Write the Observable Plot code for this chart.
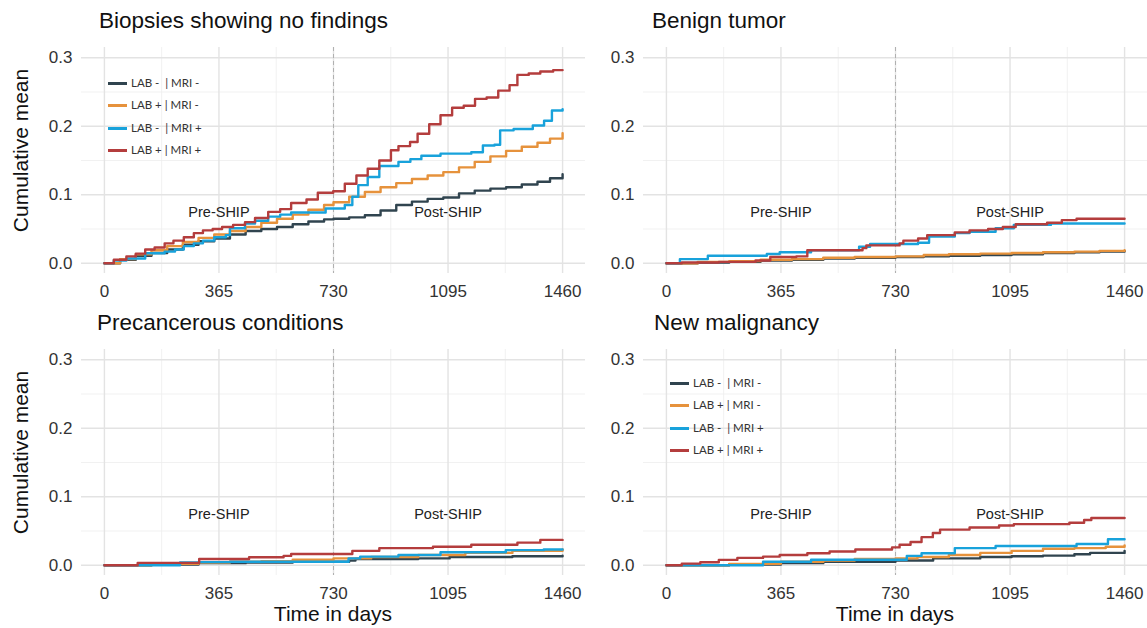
<!DOCTYPE html>
<html><head><meta charset="utf-8">
<script src="https://cdn.jsdelivr.net/npm/d3@7"></script>
<script src="https://cdn.jsdelivr.net/npm/@observablehq/plot@0.6"></script>
<style>
body{margin:0;background:#fff;}
#chart{position:relative;width:1147px;height:628px;overflow:hidden;background:#fff;font-family:"Liberation Sans",Arial,sans-serif;}
#chart svg{position:absolute;}
.t{position:absolute;white-space:nowrap;line-height:1;color:#111;}
.title{font-size:22.5px;}
.ytitle{font-size:21px;width:200px;text-align:center;transform:rotate(-90deg);}
.xtitle{font-size:21px;width:200px;text-align:center;}
.leg{position:absolute;font-family:Lato,"Open Sans",sans-serif;font-size:11.5px;color:#333;white-space:pre;line-height:1;}
.sw{position:absolute;width:19px;height:3px;}
</style></head>
<body><div id="chart"></div>
<script>
// ---- categories / labels ----
const panelTitles = ["Biopsies showing no findings", "Benign tumor", "Precancerous conditions", "New malignancy"];
const seriesLabels = ["LAB -  | MRI -", "LAB + | MRI -", "LAB -  | MRI +", "LAB + | MRI +"];
const seriesColors = ["#30444f", "#e6923c", "#18a2db", "#b43d3d"];
const xTicks = [0, 365, 730, 1095, 1460];
const xMinor = [182.5, 547.5, 912.5, 1277.5];
const yTicks = [0, 0.1, 0.2, 0.3];
const yMinor = [0.05, 0.15, 0.25];
const phaseLabels = [{day: 365, value: 0.075, text: "Pre-SHIP"}, {day: 1095, value: 0.075, text: "Post-SHIP"}];

// ---- Biopsies showing no findings: [day, cumulative mean] ----
const noFind_labNeg_mriNeg = [[0,0],[50,0.005],[100,0.011],[150,0.015],[200,0.020],[250,0.027],[300,0.032],[350,0.036],[400,0.042],[450,0.047],[500,0.050],[550,0.053],[600,0.057],[650,0.061],[700,0.064],[730,0.065],[780,0.067],[830,0.070],[880,0.077],[930,0.085],[980,0.090],[1030,0.094],[1080,0.096],[1130,0.102],[1180,0.106],[1230,0.109],[1280,0.111],[1330,0.115],[1380,0.119],[1420,0.124],[1460,0.130]];
const noFind_labPos_mriNeg = [[0,0],[50,0.006],[100,0.013],[150,0.019],[200,0.025],[250,0.031],[300,0.037],[350,0.042],[400,0.047],[450,0.053],[500,0.059],[550,0.065],[600,0.071],[650,0.078],[700,0.085],[730,0.089],[780,0.097],[830,0.104],[880,0.111],[930,0.117],[980,0.123],[1030,0.128],[1080,0.133],[1130,0.140],[1180,0.148],[1230,0.156],[1280,0.164],[1330,0.170],[1380,0.176],[1420,0.182],[1460,0.190]];
const noFind_labNeg_mriPos = [[0,0],[30,0.004],[70,0.007],[130,0.0145],[192,0.017],[225,0.020],[253,0.025],[285,0.029],[314,0.033],[350,0.038],[387,0.041],[400,0.051],[448,0.058],[480,0.062],[522,0.068],[560,0.071],[595,0.074],[680,0.074],[705,0.080],[766,0.085],[790,0.097],[809,0.114],[839,0.126],[876,0.142],[937,0.148],[975,0.152],[1010,0.157],[1071,0.160],[1169,0.162],[1206,0.172],[1243,0.173],[1261,0.194],[1304,0.196],[1365,0.201],[1401,0.208],[1426,0.223],[1460,0.225]];
const noFind_labPos_mriPos = [[0,0],[30,0.005],[70,0.010],[100,0.014],[130,0.020],[160,0.023],[192,0.029],[220,0.033],[253,0.038],[285,0.044],[314,0.048],[345,0.050],[375,0.053],[410,0.056],[448,0.060],[480,0.066],[522,0.075],[560,0.079],[595,0.088],[644,0.093],[680,0.103],[729,0.105],[766,0.116],[803,0.128],[839,0.138],[876,0.150],[913,0.165],[937,0.171],[974,0.177],[998,0.189],[1035,0.203],[1071,0.216],[1108,0.227],[1145,0.230],[1181,0.240],[1218,0.242],[1255,0.252],[1291,0.260],[1316,0.275],[1352,0.277],[1389,0.280],[1430,0.282],[1460,0.282]];

// ---- Benign tumor ----
const benign_labNeg_mriNeg = [[0,0],[100,0.001],[200,0.002],[300,0.004],[400,0.005],[500,0.007],[600,0.008],[730,0.009],[820,0.010],[900,0.011],[1000,0.012],[1100,0.013],[1200,0.015],[1300,0.016],[1380,0.017],[1460,0.018]];
const benign_labPos_mriNeg = [[0,0],[100,0.002],[200,0.003],[300,0.005],[400,0.006],[500,0.008],[600,0.009],[730,0.010],[820,0.012],[900,0.013],[1000,0.014],[1100,0.015],[1200,0.016],[1300,0.017],[1380,0.018],[1460,0.019]];
const benign_labNeg_mriPos = [[0,0],[43,0.006],[132,0.011],[320,0.0135],[361,0.016],[461,0.019],[614,0.024],[649,0.028],[802,0.030],[837,0.039],[919,0.044],[966,0.046],[1049,0.051],[1107,0.056],[1225,0.058],[1460,0.058]];
const benign_labPos_mriPos = [[0,0],[49,0.001],[167,0.002],[284,0.004],[331,0.009],[414,0.010],[449,0.019],[625,0.022],[637,0.026],[743,0.029],[755,0.033],[802,0.036],[831,0.041],[919,0.045],[966,0.048],[1025,0.050],[1072,0.053],[1113,0.057],[1213,0.059],[1260,0.063],[1307,0.065],[1460,0.065]];

// ---- Precancerous conditions ----
const precan_labNeg_mriNeg = [[0,0],[150,0.001],[300,0.003],[450,0.004],[600,0.005],[780,0.007],[800,0.009],[1000,0.010],[1100,0.012],[1300,0.013],[1460,0.014]];
const precan_labPos_mriNeg = [[0,0],[150,0.002],[300,0.004],[400,0.005],[500,0.006],[600,0.008],[730,0.010],[850,0.012],[1000,0.015],[1150,0.018],[1300,0.021],[1460,0.023]];
const precan_labNeg_mriPos = [[0,0],[241,0.004],[302,0.0045],[400,0.005],[778,0.010],[815,0.0126],[937,0.015],[1071,0.019],[1279,0.022],[1400,0.023],[1460,0.023]];
const precan_labPos_mriPos = [[0,0],[106,0.0034],[302,0.009],[461,0.0117],[571,0.0136],[595,0.0165],[790,0.021],[876,0.025],[1047,0.027],[1169,0.030],[1316,0.033],[1389,0.037],[1460,0.037]];

// ---- New malignancy ----
const newMal_labNeg_mriNeg = [[0,0],[200,0.001],[365,0.003],[500,0.005],[730,0.007],[850,0.010],[1000,0.012],[1100,0.013],[1200,0.014],[1300,0.016],[1350,0.018],[1460,0.021]];
const newMal_labPos_mriNeg = [[0,0],[200,0.002],[365,0.005],[500,0.007],[600,0.009],[730,0.010],[800,0.012],[900,0.015],[1000,0.018],[1100,0.021],[1200,0.024],[1300,0.025],[1400,0.027],[1460,0.029]];
const newMal_labNeg_mriPos = [[0,0],[308,0.005],[461,0.008],[766,0.0136],[813,0.0175],[919,0.025],[1049,0.028],[1307,0.031],[1407,0.038],[1460,0.038]];
const newMal_labPos_mriPos = [[0,0],[49,0.0024],[108,0.0044],[167,0.0078],[226,0.0107],[308,0.0126],[361,0.015],[449,0.0175],[520,0.020],[602,0.023],[719,0.026],[743,0.030],[778,0.034],[813,0.041],[849,0.047],[872,0.052],[966,0.055],[1060,0.058],[1107,0.060],[1284,0.062],[1331,0.066],[1354,0.069],[1460,0.069]];

const panels = [
  {series:[noFind_labNeg_mriNeg, noFind_labPos_mriNeg, noFind_labNeg_mriPos, noFind_labPos_mriPos], left:0, top:0, width:590, mr:5, titleX:99, yTitle:true, xTitle:false, legend:true},
  {series:[benign_labNeg_mriNeg, benign_labPos_mriNeg, benign_labNeg_mriPos, benign_labPos_mriPos], left:562, top:0, width:585, mr:0, titleX:652, yTitle:false, xTitle:false, legend:false},
  {series:[precan_labNeg_mriNeg, precan_labPos_mriNeg, precan_labNeg_mriPos, precan_labPos_mriPos], left:0, top:302, width:590, mr:5, titleX:97, yTitle:true, xTitle:true, legend:false},
  {series:[newMal_labNeg_mriNeg, newMal_labPos_mriNeg, newMal_labNeg_mriPos, newMal_labPos_mriPos], left:562, top:302, width:585, mr:0, titleX:654, yTitle:false, xTitle:true, legend:true}
];

const chart = document.getElementById("chart");
function addDiv(cls, text, left, top) {
  const d = document.createElement("div");
  d.className = cls; d.textContent = text;
  d.style.left = left + "px"; d.style.top = top + "px";
  chart.appendChild(d); return d;
}

panels.forEach((p, pi) => {
  const svg = Plot.plot({
    width: p.width, height: 300,
    marginLeft: 81, marginRight: p.mr, marginTop: 47, marginBottom: 27,
    style: {background: "transparent", color: "#333", fontFamily: "'Liberation Sans', Arial, sans-serif", fontSize: "17px"},
    x: {domain: [-73, 1533]},
    y: {domain: [-0.015, 0.315]},
    marks: [
      Plot.gridY(yMinor, {stroke: "#eeeeee", strokeOpacity: 1, strokeWidth: 0.8}),
      Plot.gridX(xMinor, {stroke: "#eeeeee", strokeOpacity: 1, strokeWidth: 0.8}),
      Plot.gridY(yTicks, {stroke: "#e3e3e3", strokeOpacity: 1, strokeWidth: 1.4}),
      Plot.gridX(xTicks, {stroke: "#e3e3e3", strokeOpacity: 1, strokeWidth: 1.4}),
      Plot.ruleX([730], {stroke: "#b0b0b0", strokeWidth: 1, strokeDasharray: "4,3"}),
      Plot.axisX(xTicks, {tickSize: 0, tickPadding: 11, tickFormat: d => String(d), label: null, fontSize: 17}),
      Plot.axisY(yTicks, {tickSize: 0, tickPadding: 9, tickFormat: d => d.toFixed(1), label: null, fontSize: 17}),
      Plot.text(phaseLabels, {x: "day", y: "value", text: "text", fontSize: 14.5, fill: "#222"}),
      ...p.series.map((data, i) => Plot.line(data, {x: d => d[0], y: d => d[1], stroke: seriesColors[i], strokeWidth: 2.4, curve: "step-after"}))
    ]
  });
  svg.style.left = p.left + "px";
  svg.style.top = p.top + "px";
  chart.appendChild(svg);

  addDiv("t title", panelTitles[pi], p.titleX, p.top + 10);
  if (p.yTitle) addDiv("t ytitle", "Cumulative mean", 20 - 100, p.top + 150 - 10.5);
  if (p.xTitle) addDiv("t xtitle", "Time in days", p.left + 333 - 100, 603);
  if (p.legend) {
    const offs = pi === 0 ? 0 : 300;
    seriesLabels.forEach((lab, i) => {
      const cy = 83 + offs + i * 22.5;
      const sw = document.createElement("div");
      sw.className = "sw"; sw.style.background = seriesColors[i];
      sw.style.left = (p.left + 108) + "px"; sw.style.top = (cy - 1.5) + "px";
      chart.appendChild(sw);
      addDiv("leg", lab, p.left + 131, cy - 6.5);
    });
  }
});
</script></body></html>
